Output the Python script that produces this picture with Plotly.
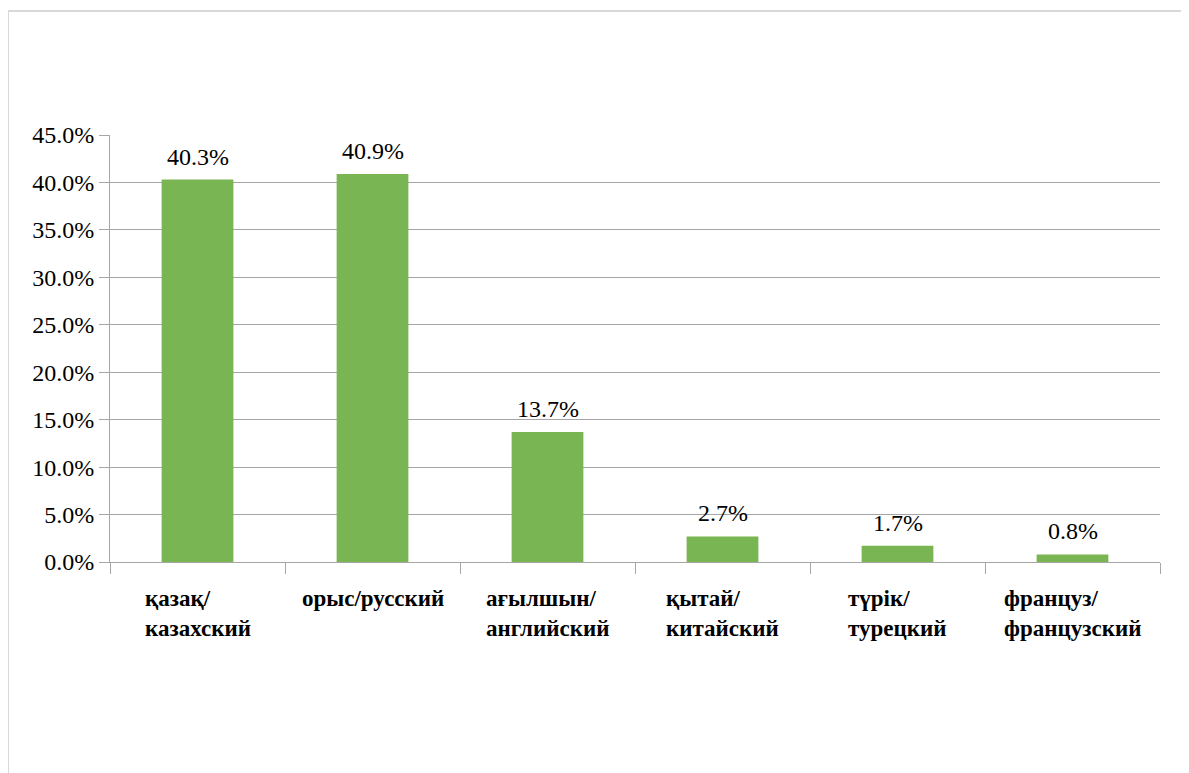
import plotly.graph_objects as go

categories = ["қазақ/<br>казахский", "орыс/русский", "ағылшын/<br>английский",
              "қытай/<br>китайский", "түрік/<br>турецкий", "француз/<br>французский"]
cat_keys = ["kk", "ru", "en", "zh", "tr", "fr"]
values = [0.403, 0.409, 0.137, 0.027, 0.017, 0.008]
value_labels = ["40.3%", "40.9%", "13.7%", "2.7%", "1.7%", "0.8%"]
y_ticks = [0, 0.05, 0.10, 0.15, 0.20, 0.25, 0.30, 0.35, 0.40, 0.45]

SERIF = "'Times New Roman', 'Liberation Serif', 'DejaVu Serif', serif"

fig = go.Figure()
fig.add_trace(go.Bar(
    x=cat_keys, y=values,
    marker=dict(color="#79b552", line=dict(width=0)),
    width=0.41,
    hoverinfo="skip",
))

annotations = []
for k, v, lab in zip(cat_keys, values, value_labels):
    annotations.append(dict(
        x=k, y=v, xref="x", yref="y", text=lab, showarrow=False,
        yanchor="bottom", yshift=8,
        font=dict(family=SERIF, size=24, color="#000000"),
    ))
for k, c in zip(cat_keys, categories):
    annotations.append(dict(
        x=k, y=-0.052, xref="x", yref="paper", text="<b>" + c + "</b>",
        showarrow=False, yanchor="top", xanchor="center", align="left",
        font=dict(family=SERIF, size=23, color="#000000"),
    ))

fig.update_layout(
    width=1189, height=773,
    margin=dict(l=102, r=37, t=127, b=219),
    paper_bgcolor="white", plot_bgcolor="white",
    showlegend=False,
    font=dict(family=SERIF, color="#000000"),
    annotations=annotations,
    xaxis=dict(
        showticklabels=False, ticks="outside", tickson="boundaries", ticklen=11,
        tickcolor="#a6a6a6", showline=True, linecolor="#a6a6a6", linewidth=1,
        showgrid=False, range=[-0.5, 5.5], fixedrange=True,
    ),
    yaxis=dict(
        range=[0, 0.45], tickvals=y_ticks, tickformat=".1%",
        ticks="outside", ticklen=10, tickcolor="#a6a6a6",
        showline=True, linecolor="#a6a6a6", linewidth=1,
        showgrid=True, gridcolor="#a6a6a6", gridwidth=1,
        tickfont=dict(family=SERIF, size=24, color="#000000"),
        zeroline=False, fixedrange=True,
    ),
)

# left and top frame border of the chart area
fig.add_shape(type="line", xref="paper", yref="paper", x0=-0.0971, x1=1.1, y0=1.2904, y1=1.2904,
              line=dict(color="#d9d9d9", width=2))
fig.add_shape(type="line", xref="paper", yref="paper", x0=-0.0971, x1=-0.0971, y0=-0.6, y1=1.2904,
              line=dict(color="#d9d9d9", width=2))

fig.write_html("out.html")
